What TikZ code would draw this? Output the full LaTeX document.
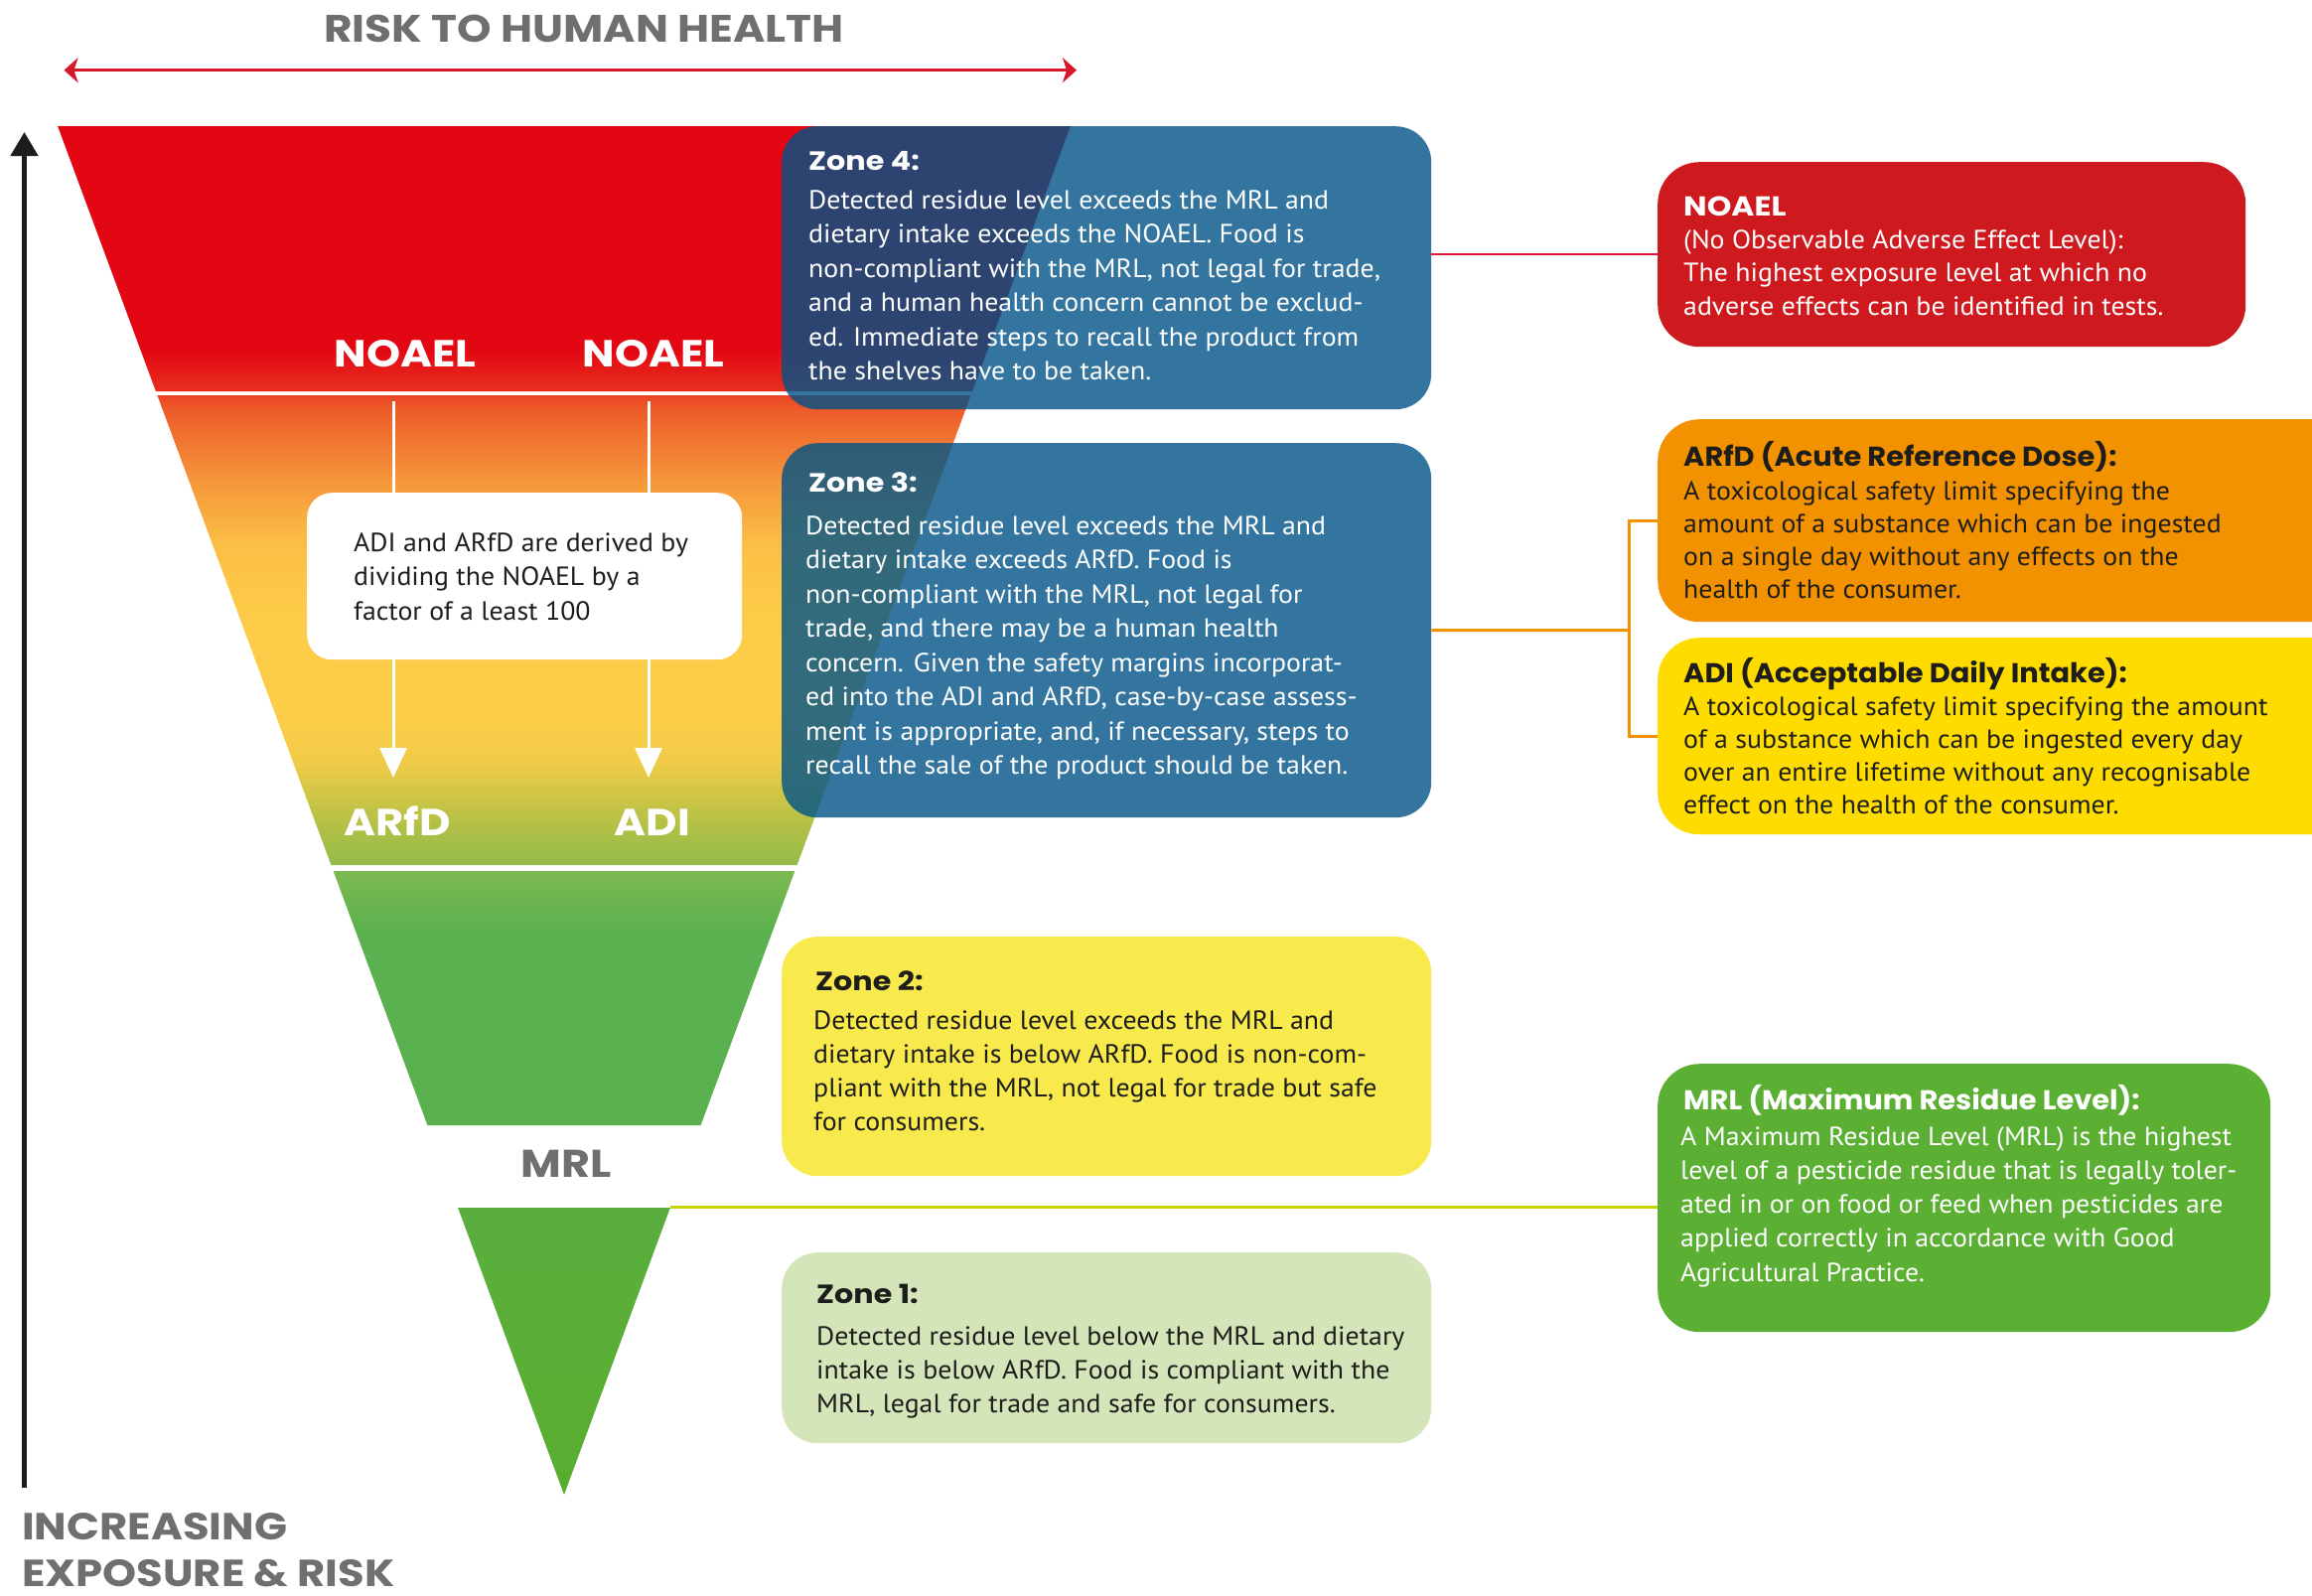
\documentclass[tikz,border=0pt]{standalone}
\usepackage{fontspec}
\setmainfont{PT Sans}[FakeStretch=1.05]
\newfontfamily\hfont{Poppins}[FakeStretch=1.05]
\newfontfamily\capsfont{Poppins}[FakeStretch=1.14]
\usetikzlibrary{arrows.meta}
\definecolor{fred}{HTML}{E30613}
\definecolor{fredb}{HTML}{E7301E}
\definecolor{ga}{HTML}{EA4324}
\definecolor{gb}{HTML}{EE5C29}
\definecolor{gc}{HTML}{F5943A}
\definecolor{gd}{HTML}{FBBE45}
\definecolor{ge}{HTML}{FDCB48}
\definecolor{gf}{HTML}{FDCD48}
\definecolor{gg}{HTML}{F3CC48}
\definecolor{gh}{HTML}{D3C646}
\definecolor{gi}{HTML}{B3C045}
\definecolor{gj}{HTML}{92BB4A}
\definecolor{gk}{HTML}{7DBA52}
\definecolor{gl}{HTML}{5BB04F}
\definecolor{gm}{HTML}{5BAE3E}
\definecolor{gn}{HTML}{58AE2E}
\definecolor{zblue}{RGB}{0,83,136}
\definecolor{zyellow}{HTML}{F8EA4D}
\definecolor{zgreen}{HTML}{D4E5BA}
\definecolor{dtext}{HTML}{1D1D1B}
\definecolor{gtext}{HTML}{706F6F}
\definecolor{arrowred}{HTML}{D7182A}
\definecolor{noaelred}{HTML}{CE1A1E}
\definecolor{noaelline}{HTML}{E3173E}
\definecolor{arfdorange}{HTML}{F39200}
\definecolor{adiyellow}{HTML}{FEDC00}
\definecolor{mrlgreen}{HTML}{5BAF32}
\definecolor{mrlline}{HTML}{C6D300}
\newcommand\bodyf[1]{\fontsize{26.5}{#1}\selectfont}
\newcommand\headf[1]{\hfont\bfseries\fontsize{#1}{#1}\selectfont}
\newcommand\capsf[1]{\capsfont\bfseries\fontsize{#1}{#1}\selectfont}
\newcommand\band[4]{\shade[top color=#3,bottom color=#4] (0,#1) rectangle (1100,#2);}
\begin{document}
\begin{tikzpicture}[x=1pt,y=-1pt,
  txt/.style={inner sep=0pt, anchor=base west},
  biglbl/.style={inner sep=0pt, anchor=base, font={\capsf{38}}},
  zbox/.style={rectangle, rounded corners=36pt, inner sep=0pt, anchor=north west, draw=none},
  dbox/.style={rectangle, rounded corners=42pt, inner sep=0pt, anchor=north west, draw=none},
  wline/.style={draw=white, line width=3pt},
  ztitle/.style={txt, font={\capsf{26.5}}},
  dtitle/.style={txt, font={\headf{27.5}}}
  ]
\useasboundingbox (0,0) rectangle (2328,1606);
\clip (0,0) rectangle (2328,1606);
\fill[white] (0,0) rectangle (2328,1606);

% ---------- funnel ----------
\begin{scope}
  \clip (58.1,127) -- (1077.9,127) -- (979.1,394) -- (156.9,394) -- cycle;
  \fill[fred] (0,126) rectangle (1100,351);
  \band{350}{395}{fred}{fredb}
\end{scope}
\begin{scope}
  \clip (158.4,398) -- (977.6,398) -- (802.6,871) -- (333.4,871) -- cycle;
  \band{397}{413.5}{ga}{gb}
  \band{413}{480.5}{gb}{gc}
  \band{480}{547.5}{gc}{gd}
  \band{547}{613.5}{gd}{ge}
  \band{613}{713.5}{ge}{gf}
  \band{713}{763.5}{gf}{gg}
  \band{763}{797.5}{gg}{gh}
  \band{797}{830.5}{gh}{gi}
  \band{830}{872}{gi}{gj}
\end{scope}
\begin{scope}
  \clip (335.6,877) -- (800.4,877) -- (705.6,1133) -- (430.4,1133) -- cycle;
  \band{876}{940.5}{gk}{gl}
  \fill[gl] (0,940) rectangle (1100,1134);
\end{scope}
\shade[top color=gm, bottom color=gn] (461.1,1216) -- (674.9,1216) -- (568,1505) -- cycle;

% ---------- axes ----------
\node[inner sep=0pt, anchor=base, text=gtext, font={\capsf{38.5}}] (risk) at (588,42) {RISK TO HUMAN HEALTH};
\coordinate (ral) at (64.5,70.7);
\coordinate (rar) at (1084,70.7);
\draw[arrowred, line width=3.3pt, {Stealth[width=25pt,length=14pt,inset=4pt]}-{Stealth[width=25pt,length=14pt,inset=4pt]}] (ral) -- (rar);
\coordinate (vbot) at (24.5,1498);
\coordinate (vtop) at (24.5,133);
\draw[dtext, line width=5pt, -{Triangle[width=27pt,length=24pt]}] (vbot) -- (vtop);
\node[txt, text=gtext, font={\capsf{38}}] (inc1) at (22,1550) {INCREASING};
\node[txt, text=gtext, font={\capsf{38}}] (inc2) at (22,1597) {EXPOSURE \& RISK};

% ---------- labels in funnel ----------
\node[biglbl, text=white] (noaelL) at (408,369) {NOAEL};
\node[biglbl, text=white] (noaelR) at (658,369) {NOAEL};
\node[biglbl, text=white] (arfdL) at (400,841) {ARfD};
\node[biglbl, text=white] (adiL) at (657,841) {ADI};
\node[biglbl, text=gtext, font={\capsf{39}}] (mrlL) at (570,1185) {MRL};

\node[rectangle, rounded corners=25pt, fill=white, inner sep=0pt, anchor=north west,
      minimum width=438pt, minimum height=168pt] (derive) at (309,496) {};
\node[txt, text=dtext] (derivetxt) at (356,555) {\bodyf{34.5}\begin{tabular}[t]{@{}l@{}}ADI and ARfD are derived by\\dividing the NOAEL by a\\factor of a least 100\end{tabular}};

\coordinate (nl1) at (396,404);
\coordinate (nr1) at (653,404);
\coordinate (al) at (396,783);
\coordinate (ar) at (653,783);
\draw[wline] (nl1) -- (nl1 |- derive.north);
\draw[wline] (nr1) -- (nr1 |- derive.north);
\draw[wline, -{Triangle[width=27pt,length=30pt]}] (al |- derive.south) -- (al);
\draw[wline, -{Triangle[width=27pt,length=30pt]}] (ar |- derive.south) -- (ar);

% ---------- zone boxes ----------
\node[zbox, fill=zblue, fill opacity=0.8, minimum width=654pt, minimum height=285pt] (z4) at (787,127) {};
\node[zbox, fill=zblue, fill opacity=0.8, minimum width=654pt, minimum height=377pt] (z3) at (787,446) {};
\node[zbox, fill=zyellow, minimum width=654pt, minimum height=241pt] (z2) at (787,943) {};
\node[zbox, fill=zgreen, minimum width=654pt, minimum height=192pt] (z1) at (787,1261) {};

\node[ztitle, text=white] (z4t) at (814,171) {Zone 4:};
\node[txt, text=white] (z4b) at (814,210) {\bodyf{34.5}\begin{tabular}[t]{@{}l@{}}Detected residue level exceeds the MRL and\\dietary intake exceeds the NOAEL. Food is\\non-compliant with the MRL, not legal for trade,\\and a human health concern cannot be exclud-\\ed. Immediate steps to recall the product from\\the shelves have to be taken.\end{tabular}};

\node[ztitle, text=white] (z3t) at (814,495) {Zone 3:};
\node[txt, text=white] (z3b) at (811,538) {\bodyf{34.5}\begin{tabular}[t]{@{}l@{}}Detected residue level exceeds the MRL and\\dietary intake exceeds ARfD. Food is\\non-compliant with the MRL, not legal for\\trade, and there may be a human health\\concern. Given the safety margins incorporat-\\ed into the ADI and ARfD, case-by-case assess-\\ment is appropriate, and, if necessary, steps to\\recall the sale of the product should be taken.\end{tabular}};

\node[ztitle, text=dtext] (z2t) at (821,997) {Zone 2:};
\node[txt, text=dtext] (z2b) at (819,1036) {\bodyf{34}\begin{tabular}[t]{@{}l@{}}Detected residue level exceeds the MRL and\\dietary intake is below ARfD. Food is non-com-\\pliant with the MRL, not legal for trade but safe\\for consumers.\end{tabular}};

\node[ztitle, text=dtext] (z1t) at (822,1312) {Zone 1:};
\node[txt, text=dtext] (z1b) at (822,1354) {\bodyf{34}\begin{tabular}[t]{@{}l@{}}Detected residue level below the MRL and dietary\\intake is below ARfD. Food is compliant with the\\MRL, legal for trade and safe for consumers.\end{tabular}};

% ---------- definition boxes ----------
\node[dbox, fill=noaelred, minimum width=592pt, minimum height=186pt] (nb) at (1669,163) {};
\node[dbox, fill=arfdorange, minimum width=720pt, minimum height=204pt] (arfdb) at (1669,422) {};
\node[dbox, fill=adiyellow, minimum width=720pt, minimum height=198pt] (adib) at (1669,642) {};
\node[dbox, fill=mrlgreen, minimum width=617pt, minimum height=270pt] (mrlb) at (1669,1071) {};

\node[txt, text=white, font={\capsf{27.5}}] (nbt) at (1695,217) {NOAEL};
\node[txt, text=white] (nbb) at (1695,250) {\bodyf{33.5}\begin{tabular}[t]{@{}l@{}}(No Observable Adverse Effect Level):\\The highest exposure level at which no\\adverse effects can be identified in tests.\end{tabular}};

\node[dtitle, text=dtext] (arfdt) at (1695,469) {ARfD (Acute Reference Dose):};
\node[txt, text=dtext] (arfdbb) at (1695,503) {\bodyf{33}\begin{tabular}[t]{@{}l@{}}A toxicological safety limit specifying the\\amount of a substance which can be ingested\\on a single day without any effects on the\\health of the consumer.\end{tabular}};

\node[dtitle, text=dtext] (adit) at (1695,687) {ADI (Acceptable Daily Intake):};
\node[txt, text=dtext] (adibb) at (1695,720) {\bodyf{33.3}\begin{tabular}[t]{@{}l@{}}A toxicological safety limit specifying the amount\\of a substance which can be ingested every day\\over an entire lifetime without any recognisable\\effect on the health of the consumer.\end{tabular}};

\node[dtitle, text=white] (mrlt) at (1695,1117) {MRL (Maximum Residue Level):};
\node[txt, text=white] (mrlbb) at (1692,1153) {\bodyf{34.3}\begin{tabular}[t]{@{}l@{}}A Maximum Residue Level (MRL) is the highest\\level of a pesticide residue that is legally toler-\\ated in or on food or feed when pesticides are\\applied correctly in accordance with Good\\Agricultural Practice.\end{tabular}};

% ---------- connectors ----------
\draw[noaelline, line width=2.5pt] (z4.east |- nb.west) -- (nb.west);
\coordinate (brk) at (1640,634.5);
\draw[arfdorange, line width=3pt] (z3.east) -- (brk);
\draw[arfdorange, line width=3pt] (arfdb.west) -| (brk) |- (adib.west);
\coordinate (triR) at (674.9,1215);
\draw[mrlline, line width=3pt] (triR) -- (triR -| mrlb.west);
\end{tikzpicture}
\end{document}
